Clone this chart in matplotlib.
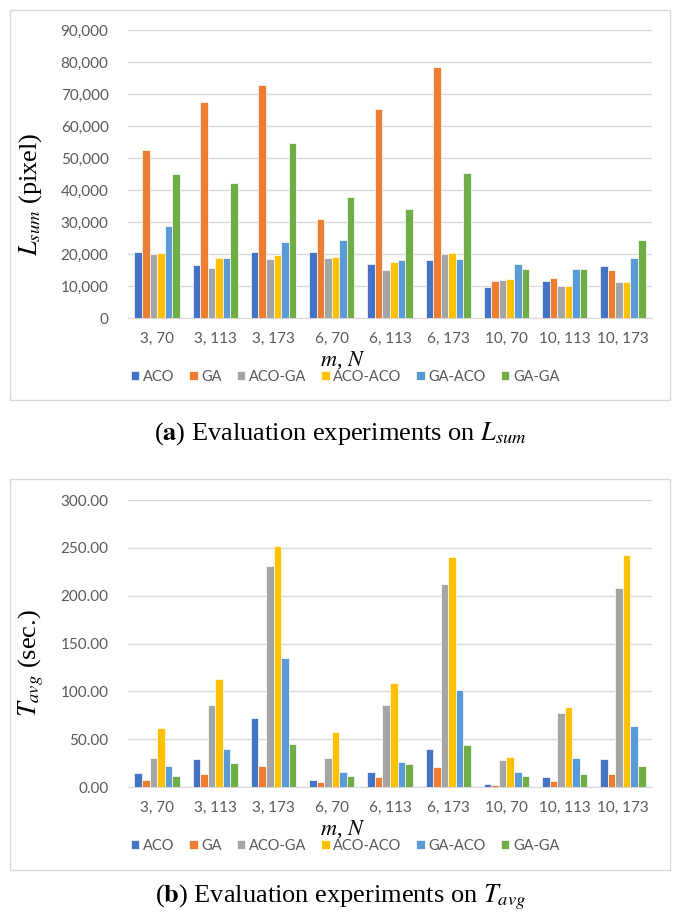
# Grouped bar charts: L_sum and T_avg for the six algorithms
import numpy as np
import matplotlib
matplotlib.use("Agg")
import matplotlib.pyplot as plt
from matplotlib.patches import Rectangle
from matplotlib.ticker import FuncFormatter

plt.rcParams['mathtext.fontset'] = 'stix'

# data
groups = ["3, 70", "3, 113", "3, 173", "6, 70", "6, 113", "6, 173", "10, 70", "10, 113", "10, 173"]
methods = ["ACO", "GA", "ACO-GA", "ACO-ACO", "GA-ACO", "GA-GA"]
colors = ["#4472C4", "#ED7D31", "#A5A5A5", "#FFC000", "#5B9BD5", "#70AD47"]

l_aco = [20600, 16600, 20500, 20500, 17000, 18100, 9700, 11700, 16300]
l_ga = [52600, 67600, 72900, 31000, 65400, 78400, 11600, 12600, 14900]
l_aco_ga = [19900, 15500, 18400, 18800, 15000, 20000, 11900, 10000, 11100]
l_aco_aco = [20400, 18900, 19800, 19100, 17600, 20200, 12100, 10000, 11100]
l_ga_aco = [28900, 18900, 23800, 24400, 18100, 18500, 16800, 15400, 18700]
l_ga_ga = [45100, 42200, 54700, 37900, 34000, 45400, 15400, 15400, 24400]

t_aco = [14.6, 29.6, 72.0, 7.7, 15.3, 39.3, 3.1, 10.4, 29.2]
t_ga = [7.7, 13.6, 21.6, 5.6, 10.4, 20.9, 2.4, 6.6, 13.6]
t_aco_ga = [30.6, 85.6, 230.7, 29.9, 85.6, 211.9, 28.2, 77.3, 208.1]
t_aco_aco = [61.9, 112.8, 252.0, 57.4, 108.9, 240.8, 31.0, 83.9, 242.9]
t_ga_aco = [21.6, 40.0, 134.7, 16.0, 26.1, 100.9, 16.0, 29.9, 63.3]
t_ga_ga = [11.5, 24.7, 44.9, 11.1, 24.0, 43.8, 11.5, 13.9, 21.6]

W, H = 677, 922
fig = plt.figure(figsize=(W / 100, H / 100), dpi=100)
grey = "#595959"
sans = "Lato"
serif = "Liberation Serif"


def panel(y_top, y_zero, frame_top, frame_bot, series, ymax, step, fmt, ylabel,
          xlab_y, leg_y, cap_y, caption):
    # chart frame like the Excel chart area
    fig.patches.append(Rectangle((10 / W, 1 - frame_bot / H), 660 / W, (frame_bot - frame_top) / H,
                                 transform=fig.transFigure, fill=False, ec="#D9D9D9", lw=1))
    ax = fig.add_axes([128 / W, 1 - y_zero / H, 524 / W, (y_zero - y_top) / H])
    x = np.arange(len(groups))
    bw = 0.13
    for i, (vals, c, name) in enumerate(zip(series, colors, methods)):
        ax.bar(x + (i - 2.5) * bw, vals, bw, color=c, label=name, ec="white", lw=0.5, zorder=3)
    ax.set_xlim(-0.5, len(groups) - 0.5)
    ax.set_ylim(0, ymax)
    ax.set_yticks(np.arange(0, ymax + step / 2, step))
    ax.yaxis.set_major_formatter(FuncFormatter(fmt))
    ax.set_xticks(x)
    ax.set_xticklabels(groups)
    ax.tick_params(length=0, labelsize=11, colors=grey, pad=10)
    ax.tick_params(axis='y', pad=14)
    for lab in ax.get_xticklabels() + ax.get_yticklabels():
        lab.set_fontfamily(sans)
    ax.grid(axis='y', color="#D9D9D9", lw=1, zorder=0)
    for s in ["top", "right", "left"]:
        ax.spines[s].set_visible(False)
    ax.spines["bottom"].set_color("#D9D9D9")
    fig.text(31 / W, 1 - ((y_top + y_zero) / 2 + 20) / H, ylabel, rotation=90, ha="center", va="center",
             fontsize=19, family=serif)
    fig.text(343 / W, 1 - xlab_y / H, "$m$, $N$", ha="center", va="center", fontsize=16, family=serif)
    handles, labels = ax.get_legend_handles_labels()
    leg = fig.legend(handles, labels, loc="center", bbox_to_anchor=(345 / W, 1 - leg_y / H), ncol=6,
                     frameon=False, handlelength=0.6, handleheight=0.6, handletextpad=0.25, columnspacing=1.0,
                     borderpad=0, prop={"family": sans, "size": 10.5})
    for t in leg.get_texts():
        t.set_color(grey)
    fig.text(340 / W, 1 - cap_y / H, caption, ha="center", va="center", fontsize=19, family=serif)
    return ax


panel(30, 318, 10, 400, [l_aco, l_ga, l_aco_ga, l_aco_aco, l_ga_aco, l_ga_ga], 90000, 10000,
      lambda v, p: f"{v:,.0f}", "$L_{sum}$ (pixel)", 360, 377, 434,
      r"($\mathbf{a}$) Evaluation experiments on $L_{sum}$")
panel(500, 787, 479, 870, [t_aco, t_ga, t_aco_ga, t_aco_aco, t_ga_aco, t_ga_ga], 300, 50,
      lambda v, p: f"{v:.2f}", "$T_{avg}$ (sec.)", 829, 846, 897,
      r"($\mathbf{b}$) Evaluation experiments on $T_{avg}$")

fig.savefig("out.png", dpi=100)
